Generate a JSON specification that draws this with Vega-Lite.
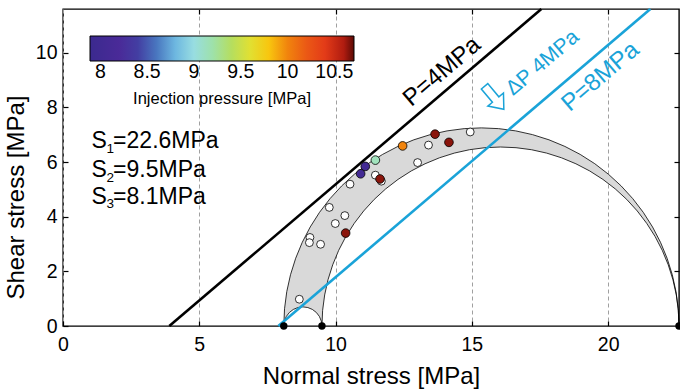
{
  "$schema": "https://vega.github.io/schema/vega-lite/v6.json",
  "width": 616,
  "height": 317,
  "autosize": "none",
  "padding": {"left": 63, "top": 9, "right": 1, "bottom": 64},
  "config": {
    "font": "Liberation Sans",
    "view": {"stroke": "black", "strokeWidth": 1.4},
    "axis": {"labelFont": "Liberation Sans", "titleFont": "Liberation Sans", "labelColor": "black", "titleColor": "black", "titleFontWeight": "normal", "tickColor": "black", "tickWidth": 1.2, "domain": false},
    "legend": {"orient": "none", "legendX": 27, "legendY": 27, "direction": "horizontal", "gradientLength": 264, "gradientThickness": 25, "gradientStrokeColor": "black", "gradientStrokeWidth": 1, "labelFont": "Liberation Sans", "labelFontSize": 19.5, "labelColor": "black", "labelOffset": 9, "titleOrient": "bottom", "titleFont": "Liberation Sans", "titleFontSize": 16.5, "titleFontWeight": "normal", "titleColor": "black", "titleAnchor": "middle", "titlePadding": 9, "titleLimit": 400, "padding": 0, "labelOverlap": false}
  },
  "datasets": {
    "region": [
      {"i": 0, "x": 8.100, "y": 0}, {"i": 1, "x": 8.128, "y": 0.632}, {"i": 2, "x": 8.210, "y": 1.259}, {"i": 3, "x": 8.347, "y": 1.876},
      {"i": 4, "x": 8.537, "y": 2.480}, {"i": 5, "x": 8.779, "y": 3.064}, {"i": 6, "x": 9.071, "y": 3.625}, {"i": 7, "x": 9.411, "y": 4.159},
      {"i": 8, "x": 9.796, "y": 4.660}, {"i": 9, "x": 10.224, "y": 5.127}, {"i": 10, "x": 10.690, "y": 5.554}, {"i": 11, "x": 11.192, "y": 5.939},
      {"i": 12, "x": 11.725, "y": 6.279}, {"i": 13, "x": 12.286, "y": 6.571}, {"i": 14, "x": 12.870, "y": 6.813}, {"i": 15, "x": 13.474, "y": 7.003},
      {"i": 16, "x": 14.091, "y": 7.140}, {"i": 17, "x": 14.718, "y": 7.222}, {"i": 18, "x": 15.350, "y": 7.250}, {"i": 19, "x": 15.982, "y": 7.222},
      {"i": 20, "x": 16.609, "y": 7.140}, {"i": 21, "x": 17.226, "y": 7.003}, {"i": 22, "x": 17.830, "y": 6.813}, {"i": 23, "x": 18.414, "y": 6.571},
      {"i": 24, "x": 18.975, "y": 6.279}, {"i": 25, "x": 19.509, "y": 5.939}, {"i": 26, "x": 20.010, "y": 5.554}, {"i": 27, "x": 20.477, "y": 5.127},
      {"i": 28, "x": 20.904, "y": 4.660}, {"i": 29, "x": 21.289, "y": 4.159}, {"i": 30, "x": 21.629, "y": 3.625}, {"i": 31, "x": 21.921, "y": 3.064},
      {"i": 32, "x": 22.163, "y": 2.480}, {"i": 33, "x": 22.353, "y": 1.876}, {"i": 34, "x": 22.490, "y": 1.259}, {"i": 35, "x": 22.572, "y": 0.632},
      {"i": 36, "x": 22.600, "y": 0},
      {"i": 37, "x": 22.575, "y": 0.571}, {"i": 38, "x": 22.501, "y": 1.137}, {"i": 39, "x": 22.377, "y": 1.695}, {"i": 40, "x": 22.205, "y": 2.240},
      {"i": 41, "x": 21.986, "y": 2.768}, {"i": 42, "x": 21.723, "y": 3.275}, {"i": 43, "x": 21.415, "y": 3.757}, {"i": 44, "x": 21.068, "y": 4.210},
      {"i": 45, "x": 20.682, "y": 4.632}, {"i": 46, "x": 20.260, "y": 5.018}, {"i": 47, "x": 19.807, "y": 5.365}, {"i": 48, "x": 19.325, "y": 5.673},
      {"i": 49, "x": 18.818, "y": 5.936}, {"i": 50, "x": 18.290, "y": 6.155}, {"i": 51, "x": 17.745, "y": 6.327}, {"i": 52, "x": 17.187, "y": 6.451},
      {"i": 53, "x": 16.621, "y": 6.525}, {"i": 54, "x": 16.050, "y": 6.550}, {"i": 55, "x": 15.479, "y": 6.525}, {"i": 56, "x": 14.913, "y": 6.451},
      {"i": 57, "x": 14.355, "y": 6.327}, {"i": 58, "x": 13.810, "y": 6.155}, {"i": 59, "x": 13.282, "y": 5.936}, {"i": 60, "x": 12.775, "y": 5.673},
      {"i": 61, "x": 12.293, "y": 5.365}, {"i": 62, "x": 11.840, "y": 5.018}, {"i": 63, "x": 11.418, "y": 4.632}, {"i": 64, "x": 11.032, "y": 4.210},
      {"i": 65, "x": 10.685, "y": 3.757}, {"i": 66, "x": 10.378, "y": 3.275}, {"i": 67, "x": 10.114, "y": 2.768}, {"i": 68, "x": 9.895, "y": 2.240},
      {"i": 69, "x": 9.723, "y": 1.695}, {"i": 70, "x": 9.600, "y": 1.137}, {"i": 71, "x": 9.525, "y": 0.571}, {"i": 72, "x": 9.500, "y": 0},
      {"i": 73, "x": 9.476, "y": 0.181}, {"i": 74, "x": 9.406, "y": 0.350}, {"i": 75, "x": 9.295, "y": 0.495}, {"i": 76, "x": 9.150, "y": 0.606},
      {"i": 77, "x": 8.981, "y": 0.676}, {"i": 78, "x": 8.800, "y": 0.700}, {"i": 79, "x": 8.619, "y": 0.676}, {"i": 80, "x": 8.450, "y": 0.606},
      {"i": 81, "x": 8.305, "y": 0.495}, {"i": 82, "x": 8.194, "y": 0.350}, {"i": 83, "x": 8.124, "y": 0.181}, {"i": 84, "x": 8.100, "y": 0}
    ],
    "lines": [
      {"line": "P4", "x": 3.9, "y": 0}, {"line": "P4", "x": 17.55, "y": 11.6},
      {"line": "P8", "x": 7.9, "y": 0}, {"line": "P8", "x": 21.55, "y": 11.6}
    ],
    "sdots": [
      {"s": "S3", "x": 8.1, "y": 0}, {"s": "S2", "x": 9.5, "y": 0}, {"s": "S1", "x": 22.6, "y": 0}
    ],
    "stress": [
      {"x": 1.05, "y": 6.5, "main": "S", "sub": "1", "rest": "=22.6MPa"},
      {"x": 1.05, "y": 5.44, "main": "S", "sub": "2", "rest": "=9.5MPa"},
      {"x": 1.05, "y": 4.48, "main": "S", "sub": "3", "rest": "=8.1MPa"}
    ],
    "obs": [
      {"x": 14.94, "y": 7.10, "p": null}, {"x": 13.41, "y": 6.62, "p": null}, {"x": 13.01, "y": 5.98, "p": null},
      {"x": 11.46, "y": 5.52, "p": null}, {"x": 11.68, "y": 5.30, "p": null}, {"x": 10.53, "y": 5.19, "p": null},
      {"x": 9.77, "y": 4.34, "p": null}, {"x": 10.34, "y": 4.04, "p": null}, {"x": 9.99, "y": 3.75, "p": null},
      {"x": 9.06, "y": 3.24, "p": null}, {"x": 9.04, "y": 3.05, "p": null}, {"x": 9.45, "y": 2.99, "p": null},
      {"x": 8.67, "y": 0.98, "p": null},
      {"x": 13.65, "y": 7.02, "p": 10.65}, {"x": 14.16, "y": 6.72, "p": 10.65}, {"x": 12.46, "y": 6.59, "p": 10.0},
      {"x": 11.46, "y": 6.07, "p": 9.15}, {"x": 11.09, "y": 5.84, "p": 8.05}, {"x": 10.92, "y": 5.57, "p": 8.05},
      {"x": 11.63, "y": 5.38, "p": 10.65}, {"x": 10.37, "y": 3.40, "p": 10.65}
    ]
  },
  "resolve": {"axis": {"x": "independent", "y": "independent"}},
  "layer": [
    {
      "data": {"name": "region"},
      "mark": {"type": "line", "fill": "#d9d9d9", "stroke": "black", "strokeWidth": 0.8},
      "encoding": {
        "x": {"field": "x", "type": "quantitative", "scale": {"domain": [0, 22.6], "nice": false, "zero": false},
          "axis": {"orient": "bottom", "values": [0, 5, 10, 15, 20], "title": "Normal stress [MPa]", "titleFontSize": 24, "titleY": 57, "titleBaseline": "alphabetic", "labelFontSize": 19.5, "labelPadding": 14, "tickSize": -5, "grid": true, "gridDash": [4, 3], "gridColor": "#a0a0a0", "gridWidth": 1, "labelFlush": false}},
        "y": {"field": "y", "type": "quantitative", "scale": {"domain": [0, 11.6], "nice": false},
          "axis": {"orient": "left", "values": [0, 2, 4, 6, 8, 10], "title": "Shear stress [MPa]", "titleFontSize": 24, "titleX": -40, "titleY": 188, "titleAngle": 270, "titleBaseline": "alphabetic", "titleAlign": "center", "labelFontSize": 19.5, "labelPadding": 11, "tickSize": -5, "grid": false}},
        "order": {"field": "i", "type": "quantitative"}
      }
    },
    {
      "data": {"name": "lines"},
      "transform": [{"filter": "datum.line == 'P4'"}],
      "mark": {"type": "line", "stroke": "black", "strokeWidth": 2.6},
      "encoding": {
        "x": {"field": "x", "type": "quantitative", "axis": null},
        "y": {"field": "y", "type": "quantitative", "axis": null}
      }
    },
    {
      "data": {"name": "lines"},
      "transform": [{"filter": "datum.line == 'P8'"}],
      "mark": {"type": "line", "stroke": "#1aa3d8", "strokeWidth": 2.6},
      "encoding": {
        "x": {"field": "x", "type": "quantitative", "axis": null},
        "y": {"field": "y", "type": "quantitative", "axis": null}
      }
    },
    {
      "data": {"name": "sdots"},
      "mark": {"type": "point", "filled": true, "color": "black", "size": 55, "opacity": 1, "clip": false},
      "encoding": {
        "x": {"field": "x", "type": "quantitative",
          "axis": {"orient": "top", "labels": false, "title": null, "grid": false, "tickSize": -5, "values": [5, 10, 15, 20], "domain": false}},
        "y": {"field": "y", "type": "quantitative",
          "axis": {"orient": "right", "labels": false, "title": null, "grid": false, "tickSize": -5, "values": [2, 4, 6, 8, 10], "domain": false}}
      }
    },
    {
      "data": {"name": "obs"},
      "transform": [{"filter": "datum.p == null"}],
      "mark": {"type": "point", "filled": true, "fill": "white", "stroke": "black", "strokeWidth": 0.8, "size": 62, "opacity": 1},
      "encoding": {
        "x": {"field": "x", "type": "quantitative", "axis": null},
        "y": {"field": "y", "type": "quantitative", "axis": null}
      }
    },
    {
      "data": {"name": "obs"},
      "transform": [{"filter": "datum.p != null"}],
      "mark": {"type": "point", "filled": true, "stroke": "black", "strokeWidth": 0.8, "size": 75, "opacity": 1},
      "encoding": {
        "x": {"field": "x", "type": "quantitative", "axis": null},
        "y": {"field": "y", "type": "quantitative", "axis": null},
        "fill": {"field": "p", "type": "quantitative",
          "scale": {"type": "linear", "interpolate": "rgb",
            "domain": [7.89, 8.28, 8.5, 8.71, 8.89, 9.07, 9.28, 9.5, 9.71, 9.85, 10.03, 10.28, 10.49, 10.6, 10.71],
            "range": ["#3b2a8f", "#4e2a9a", "#3a4fa8", "#5aa0d8", "#7fcde8", "#a8e8dc", "#98dc8c", "#cde03a", "#f7e02a", "#f8b800", "#f07a10", "#e84a18", "#e03018", "#b01c10", "#5c0a05"]},
          "legend": {"title": "Injection pressure [MPa]", "values": [8, 8.5, 9, 9.5, 10, 10.5], "format": "~g"}}
      }
    },
    {
      "data": {"name": "stress"},
      "mark": {"type": "text", "align": "left", "baseline": "alphabetic", "fontSize": 23, "color": "black", "font": "Liberation Sans"},
      "encoding": {
        "x": {"field": "x", "type": "quantitative", "axis": null},
        "y": {"field": "y", "type": "quantitative", "axis": null},
        "text": {"field": "main"}
      }
    },
    {
      "data": {"name": "stress"},
      "mark": {"type": "text", "align": "left", "baseline": "alphabetic", "fontSize": 13.5, "dx": 15, "dy": 4.5, "color": "black", "font": "Liberation Sans"},
      "encoding": {
        "x": {"field": "x", "type": "quantitative", "axis": null},
        "y": {"field": "y", "type": "quantitative", "axis": null},
        "text": {"field": "sub"}
      }
    },
    {
      "data": {"name": "stress"},
      "mark": {"type": "text", "align": "left", "baseline": "alphabetic", "fontSize": 23, "dx": 21.5, "color": "black", "font": "Liberation Sans"},
      "encoding": {
        "x": {"field": "x", "type": "quantitative", "axis": null},
        "y": {"field": "y", "type": "quantitative", "axis": null},
        "text": {"field": "rest"}
      }
    },
    {
      "data": {"values": [{"x": 13.91, "y": 9.30, "t": "P=4MPa"}]},
      "mark": {"type": "text", "align": "center", "baseline": "middle", "fontSize": 24, "angle": 319.6, "color": "black", "font": "Liberation Sans"},
      "encoding": {
        "x": {"field": "x", "type": "quantitative", "axis": null},
        "y": {"field": "y", "type": "quantitative", "axis": null},
        "text": {"field": "t"}
      }
    },
    {
      "data": {"values": [{"x": 19.72, "y": 9.12, "t": "P=8MPa"}]},
      "mark": {"type": "text", "align": "center", "baseline": "middle", "fontSize": 24, "angle": 319.6, "color": "#1aa3d8", "font": "Liberation Sans"},
      "encoding": {
        "x": {"field": "x", "type": "quantitative", "axis": null},
        "y": {"field": "y", "type": "quantitative", "axis": null},
        "text": {"field": "t"}
      }
    },
    {
      "data": {"values": [{"x": 17.6, "y": 9.62, "t": "ΔP 4MPa"}]},
      "mark": {"type": "text", "align": "center", "baseline": "middle", "fontSize": 21, "angle": 319.6, "color": "#1aa3d8", "font": "Liberation Sans"},
      "encoding": {
        "x": {"field": "x", "type": "quantitative", "axis": null},
        "y": {"field": "y", "type": "quantitative", "axis": null},
        "text": {"field": "t"}
      }
    },
    {
      "data": {"values": [{"x": 15.82, "y": 8.35}]},
      "mark": {"type": "point", "shape": "M -0.28 -1 L 0.28 -1 L 0.28 0.15 L 0.68 0.15 L 0 1 L -0.68 0.15 L -0.28 0.15 Z", "size": 900, "angle": 320, "filled": false, "stroke": "#1aa3d8", "strokeWidth": 1.5, "opacity": 1},
      "encoding": {
        "x": {"field": "x", "type": "quantitative", "axis": null},
        "y": {"field": "y", "type": "quantitative", "axis": null}
      }
    }
  ]
}
